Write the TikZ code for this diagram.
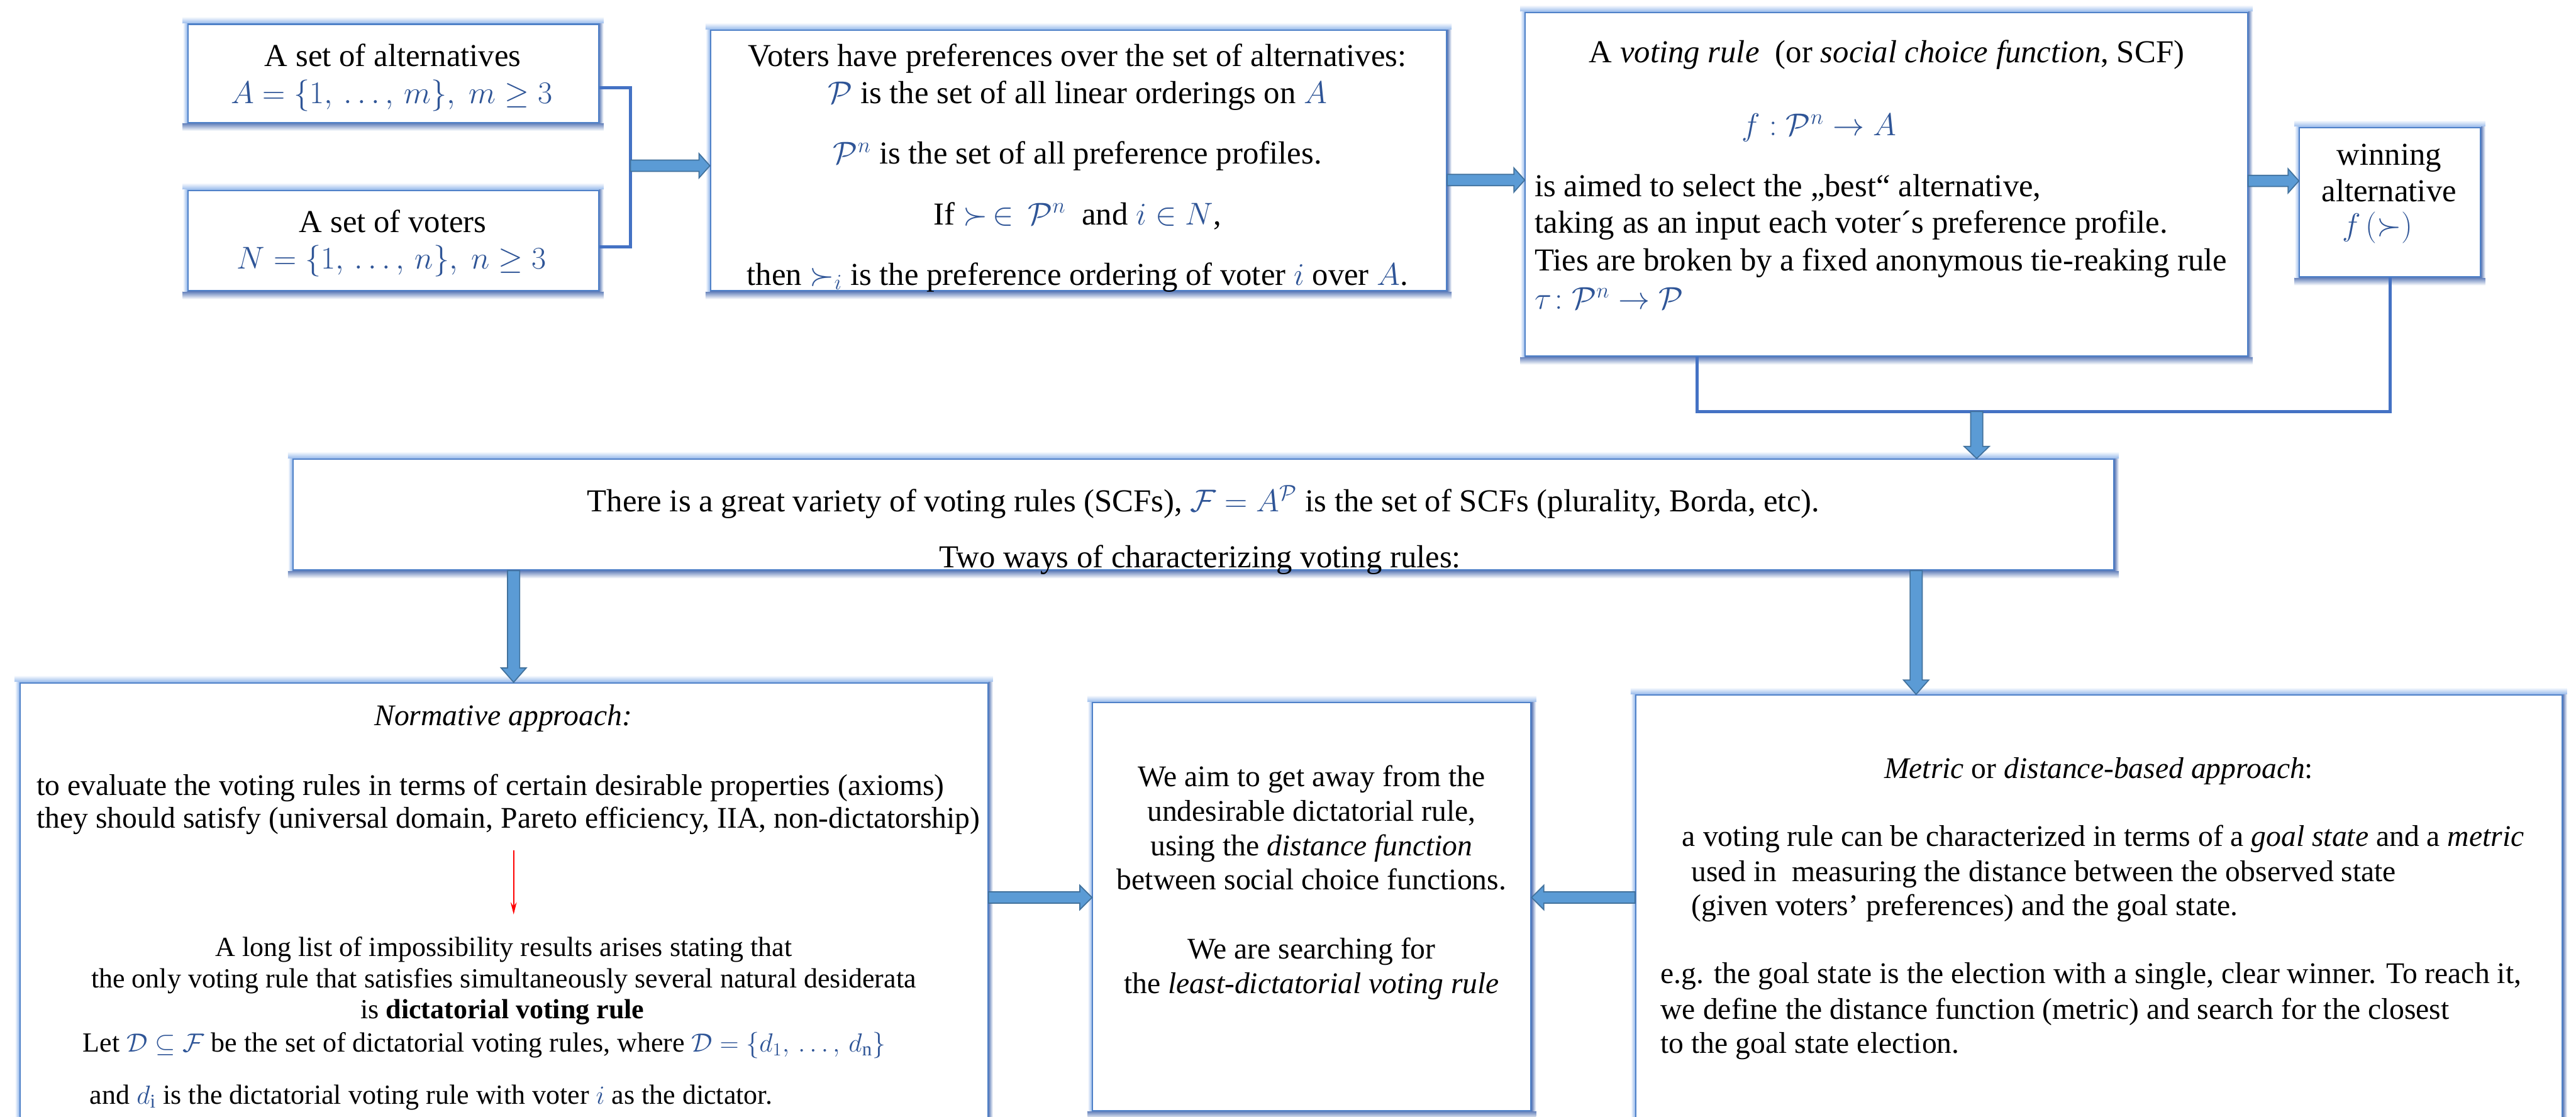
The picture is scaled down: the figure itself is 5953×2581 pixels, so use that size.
\documentclass[tikz,border=0pt]{standalone}
\usepackage{amsmath}
\usepackage{amssymb}
\usepackage{fontspec}
\setmainfont{Liberation Serif}
\usetikzlibrary{arrows.meta,calc,fit,backgrounds}

\definecolor{boxline}{RGB}{79,129,200}
\definecolor{glowlt}{RGB}{150,185,235}
\definecolor{glowdk}{RGB}{95,125,185}
\definecolor{linkblue}{RGB}{68,114,196}
\definecolor{arrfill}{RGB}{91,155,213}
\definecolor{arrline}{RGB}{65,113,156}
\definecolor{mathblue}{RGB}{47,85,151}

\newcommand{\mb}[1]{\textcolor{mathblue}{#1}}

% soft coloured rim round a box
\newcommand{\glow}[1]{%
  \shade[top color=white,bottom color=glowlt] ($(#1.north west)+(-10,-16)$) rectangle ($(#1.north east)+(10,0)$);
  \shade[top color=glowdk,middle color=glowdk!55,bottom color=white] ($(#1.south west)+(-10,0)$) rectangle ($(#1.south east)+(10,18)$);
  \shade[left color=white,right color=glowlt] ($(#1.north west)+(-10,0)$) rectangle (#1.south west);
  \shade[left color=glowdk,right color=white] (#1.north east) rectangle ($(#1.south east)+(10,0)$);}

% block arrows (tail, tip, signed head length)
\newcommand{\harrow}[3]{%
  \draw[fat] ($(#1)+(0,-13)$) -- ($(#2)+({-(#3)},-13)$) -- ($(#2)+({-(#3)},-28)$) -- (#2)
    -- ($(#2)+({-(#3)},28)$) -- ($(#2)+({-(#3)},13)$) -- ($(#1)+(0,13)$) -- cycle;}
\newcommand{\varrow}[3]{%
  \draw[fat] ($(#1)+(-14,0)$) -- ($(#2)+(-14,{-(#3)})$) -- ($(#2)+(-29,{-(#3)})$) -- (#2)
    -- ($(#2)+(29,{-(#3)})$) -- ($(#2)+(14,{-(#3)})$) -- ($(#1)+(14,0)$) -- cycle;}

\begin{document}
\begin{tikzpicture}[x=0.1mm,y=-0.1mm,line join=miter]
	\tikzstyle{box}=[draw=boxline,line width=0.3mm,fill=white,inner sep=0pt]
	\tikzstyle{txt}=[inner sep=0pt,font=\fontsize{21}{25}\selectfont,anchor=base]
	\tikzstyle{txtl}=[txt,anchor=base west]
	\tikzstyle{low}=[font=\fontsize{19.7}{23}\selectfont]
	\tikzstyle{small}=[font=\fontsize{18.2}{21}\selectfont]
	\tikzstyle{link}=[draw=linkblue,line width=0.7mm]
	\tikzstyle{fat}=[fill=arrfill,draw=arrline,line width=0.25mm]
	
	\useasboundingbox (0,0) rectangle (5953,2581);
	
	% boxes
	\node[box,fit={(434,56) (1383,283)}] (alt) {};
	\node[box,fit={(434,440) (1383,672)}] (vot) {};
	\node[box,fit={(1642,70) (3343,672)}] (pref) {};
	\node[box,fit={(3525,29) (5194,823)}] (rule) {};
	\node[box,fit={(5314,295) (5732,640)}] (win) {};
	\node[box,fit={(677,1061) (4885,1317)}] (var) {};
	\node[box,fit={(46,1578) (2283,2640)}] (norm) {};
	\node[box,fit={(2525,1624) (3538,2566)}] (mid) {};
	\node[box,fit={(3780,1606) (5921,2640)}] (metric) {};
	
	\begin{scope}[on background layer]
		\fill[white] (0,0) rectangle (5953,2581);
		\foreach \b in {alt,vot,pref,rule,win,var,norm,mid,metric} {\glow{\b}}
	\end{scope}
	
	% top row
	\node[txt] (alt1) at (908,154) {A set of alternatives};
	\node[txt] (alt2) at (905,239) {\mb{$A=\{1,\,\dots,\,m\},\ m\ge 3$}};
	\node[txt] (vot1) at (908,537) {A set of voters};
	\node[txt] (vot2) at (905,622) {\mb{$N=\{1,\,\dots,\,n\},\ n\ge 3$}};
	
	\node[txt] (pref1) at (2490,154) {Voters have preferences over the set of alternatives:};
	\node[txt] (pref2) at (2490,239) {\mb{$\mathcal{P}$} is the set of all linear orderings on \mb{$A$}};
	\node[txt] (pref3) at (2490,379) {\mb{$\mathcal{P}^n$} is the set of all preference profiles.};
	\node[txt] (pref4) at (2490,519) {If \mb{$\succ\,\in\,\mathcal{P}^n$}\ \ and \mb{$i\in N$},};
	\node[txt] (pref5) at (2490,659) {then \mb{$\succ_i$} is the preference ordering of voter \mb{$i$} over \mb{$A$}.};
	
	\node[txt] (rule1) at (4360,144) {A \textit{voting rule}\ \ (or \textit{social choice function}, SCF)};
	\node[txtl] (rule2) at (4025,313) {\mb{$f:\mathcal{P}^n\rightarrow A$}};
	\node[txtl] (rule3) at (3546,454) {is aimed to select the „best“ alternative,};
	\node[txtl] (rule4) at (3546,539) {taking as an input each voter´s preference profile.};
	\node[txtl] (rule5) at (3546,625) {Ties are broken by a fixed anonymous tie-reaking rule};
	\node[txtl] (rule6) at (3546,715) {\mb{$\tau\!:\mathcal{P}^n\rightarrow\mathcal{P}$}};
	
	\node[txt] (win1) at (5521,382) {winning};
	\node[txt] (win2) at (5521,466) {alternative};
	\node[txt] (win3) at (5494,545) {\mb{$f\,(\succ)$}};
	
	% middle row
	\node[txt] (var1) at (2781,1182) {There is a great variety of voting rules (SCFs), \mb{$\mathcal{F}=A^{\mathcal{P}}$} is the set of SCFs (plurality, Borda, etc).};
	\node[txt] (var2) at (2773,1312) {Two ways of characterizing voting rules:};
	
	% bottom row
	\node[txt,low] (norm1) at (1163,1676) {\textit{Normative approach:}};
	\node[txtl,low] (norm2) at (84,1838) {to evaluate the voting rules in terms of certain desirable properties (axioms)};
	\node[txtl,low] (norm3) at (84,1913) {they should satisfy (universal domain, Pareto efficiency, IIA, non-dictatorship)};
	\node[txt,small] (norm4) at (1164,2210) {A long list of impossibility results arises stating that};
	\node[txt,small] (norm5) at (1164,2282) {the only voting rule that satisfies simultaneously several natural desiderata};
	\node[txt,small] (norm6) at (1161,2354) {is \textbf{dictatorial voting rule}};
	\node[txtl,small] (norm7) at (191,2430) {Let \mb{$\mathcal{D}\subseteq\mathcal{F}$} be the set of dictatorial voting rules, where \mb{$\mathcal{D}=\{d_1,\,\dots,\,d_{\mathrm{n}}\}$}};
	\node[txtl,small] (norm8) at (207,2551) {and \mb{$d_{\mathrm{i}}$} is the dictatorial voting rule with voter \mb{$i$} as the dictator.};
	
	\node[txt,low] (mid1) at (3031,1818) {We aim to get away from the};
	\node[txt,low] (mid2) at (3031,1897) {undesirable dictatorial rule,};
	\node[txt,low] (mid3) at (3031,1977) {using the \textit{distance function}};
	\node[txt,low] (mid4) at (3031,2056) {between social choice functions.};
	\node[txt,low] (mid5) at (3031,2215) {We are searching for};
	\node[txt,low] (mid6) at (3031,2296) {the \textit{least-dictatorial voting rule}};
	
	\node[txt,low] (met1) at (4850,1799) {\textit{Metric} or \textit{distance-based approach}:};
	\node[txtl,low] (met2) at (3887,1956) {a voting rule can be characterized in terms of a \textit{goal state} and a \textit{metric}};
	\node[txtl,low] (met3) at (3908,2037) {used in\ \ measuring the distance between the observed state};
	\node[txtl,low] (met4) at (3908,2115) {(given voters' preferences) and the goal state.};
	\node[txtl,low] (met5) at (3837,2273) {e.g. the goal state is the election with a single, clear winner. To reach it,};
	\node[txtl,low] (met6) at (3837,2355) {we define the distance function (metric) and search for the closest};
	\node[txtl,low] (met7) at (3837,2434) {to the goal state election.};
	
	% connectors
	\coordinate (brk) at (1457,383);
	\coordinate (jn) at (4568,951);
	\coordinate (ra) at (1187,1965);
	\coordinate (rb) at (1187,2113);
	
	\draw[link] (alt.east |- 0,203) -| (brk) |- (vot.east |- 0,570);
	\draw[link] (rule.south -| 3922,0) |- (jn) -| (win.south);
	\draw[red,line width=0.25mm,-{Stealth[length=2.8mm,width=1.4mm]}] (ra) -- (rb);
	
	\harrow{brk}{pref.west |- brk}{25}
	\harrow{pref.east |- 0,416}{rule.west |- 0,416}{25}
	\harrow{rule.east |- 0,418}{win.west |- 0,418}{25}
	\varrow{jn}{jn |- var.north}{28}
	\varrow{var.south -| 1187,0}{norm.north -| 1187,0}{33}
	\varrow{var.south -| 4428,0}{metric.north -| 4428,0}{33}
	\harrow{norm.east |- 0,2074}{mid.west |- 0,2074}{28}
	\harrow{metric.west |- 0,2074}{mid.east |- 0,2074}{-28}
\end{tikzpicture}
\end{document}
